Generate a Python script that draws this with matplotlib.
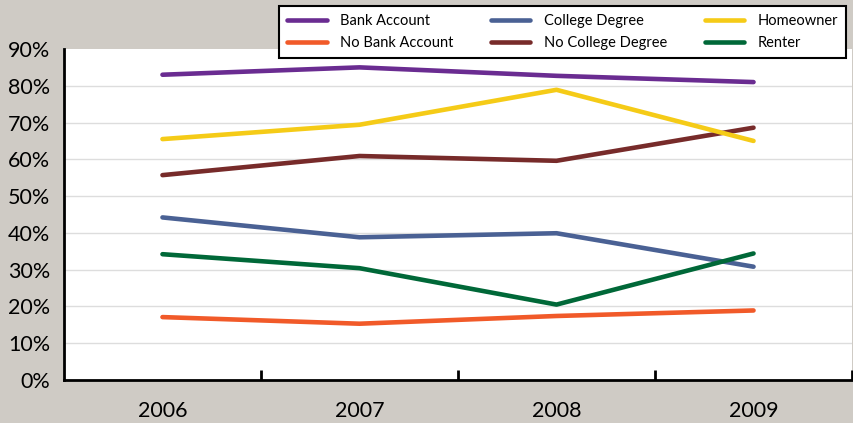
import numpy as np
import matplotlib.pyplot as plt
from matplotlib.ticker import FixedLocator, PercentFormatter

plt.rcParams['font.family'] = ['Lato', 'DejaVu Sans']

years = ['2006', '2007', '2008', '2009']
bank_account = [83.0, 85.0, 82.7, 81.0]
no_bank_account = [17.1, 15.3, 17.4, 18.9]
college_degree = [44.2, 38.8, 39.9, 30.8]
no_college_degree = [55.7, 60.9, 59.6, 68.6]
homeowner = [65.5, 69.4, 78.9, 65.0]
renter = [34.2, 30.4, 20.5, 34.4]

series = [
    ('Bank Account', bank_account, '#6a2c91'),
    ('No Bank Account', no_bank_account, '#f15a29'),
    ('College Degree', college_degree, '#4a6194'),
    ('No College Degree', no_college_degree, '#772b2a'),
    ('Homeowner', homeowner, '#f5cb17'),
    ('Renter', renter, '#006838'),
]

bg = '#cfcbc5'
fig = plt.figure(figsize=(8.54, 4.23), dpi=100, facecolor=bg)
ax = fig.add_axes([0.0749, 0.1017, 0.9228, 0.7825])
ax.set_facecolor('white')

x = np.arange(len(years))
for name, vals, col in series:
    ax.plot(x, vals, color=col, lw=3.3, solid_capstyle='round',
            solid_joinstyle='round', label=name, zorder=3)

ax.set_xlim(-0.5, len(years) - 0.5)
ax.set_ylim(0, 90)
ax.set_yticks(np.arange(0, 91, 10))
ax.yaxis.set_major_formatter(PercentFormatter(decimals=0))
ax.set_xticks(x)
ax.set_xticklabels(years)
# separators between the year groups
ax.xaxis.set_minor_locator(FixedLocator(list(x + 0.5)))
ax.tick_params(axis='x', which='major', length=0, pad=15, labelsize=15.5)
ax.tick_params(axis='x', which='minor', direction='in', length=7, width=2, color='black')
ax.tick_params(axis='y', length=0, pad=10, labelsize=15.5)

for v in range(10, 90, 10):
    ax.axhline(v, color='#dddddd', lw=1, zorder=1)

for side in ['top', 'right']:
    ax.spines[side].set_visible(False)
for side in ['left', 'bottom']:
    ax.spines[side].set_linewidth(2)
    ax.spines[side].set_color('black')

leg = fig.legend(loc='upper left', bbox_to_anchor=(0.327, 0.986), ncol=3,
                 fontsize=10.5, frameon=True, fancybox=False, edgecolor='black',
                 handlelength=2.7, handletextpad=0.9, columnspacing=2.6,
                 labelspacing=0.55, borderpad=0.55, borderaxespad=0)
leg.get_frame().set_linewidth(1.5)
leg.get_frame().set_facecolor('white')
leg.get_frame().set_alpha(1)

fig.savefig('out.png', dpi=100, facecolor=bg)
